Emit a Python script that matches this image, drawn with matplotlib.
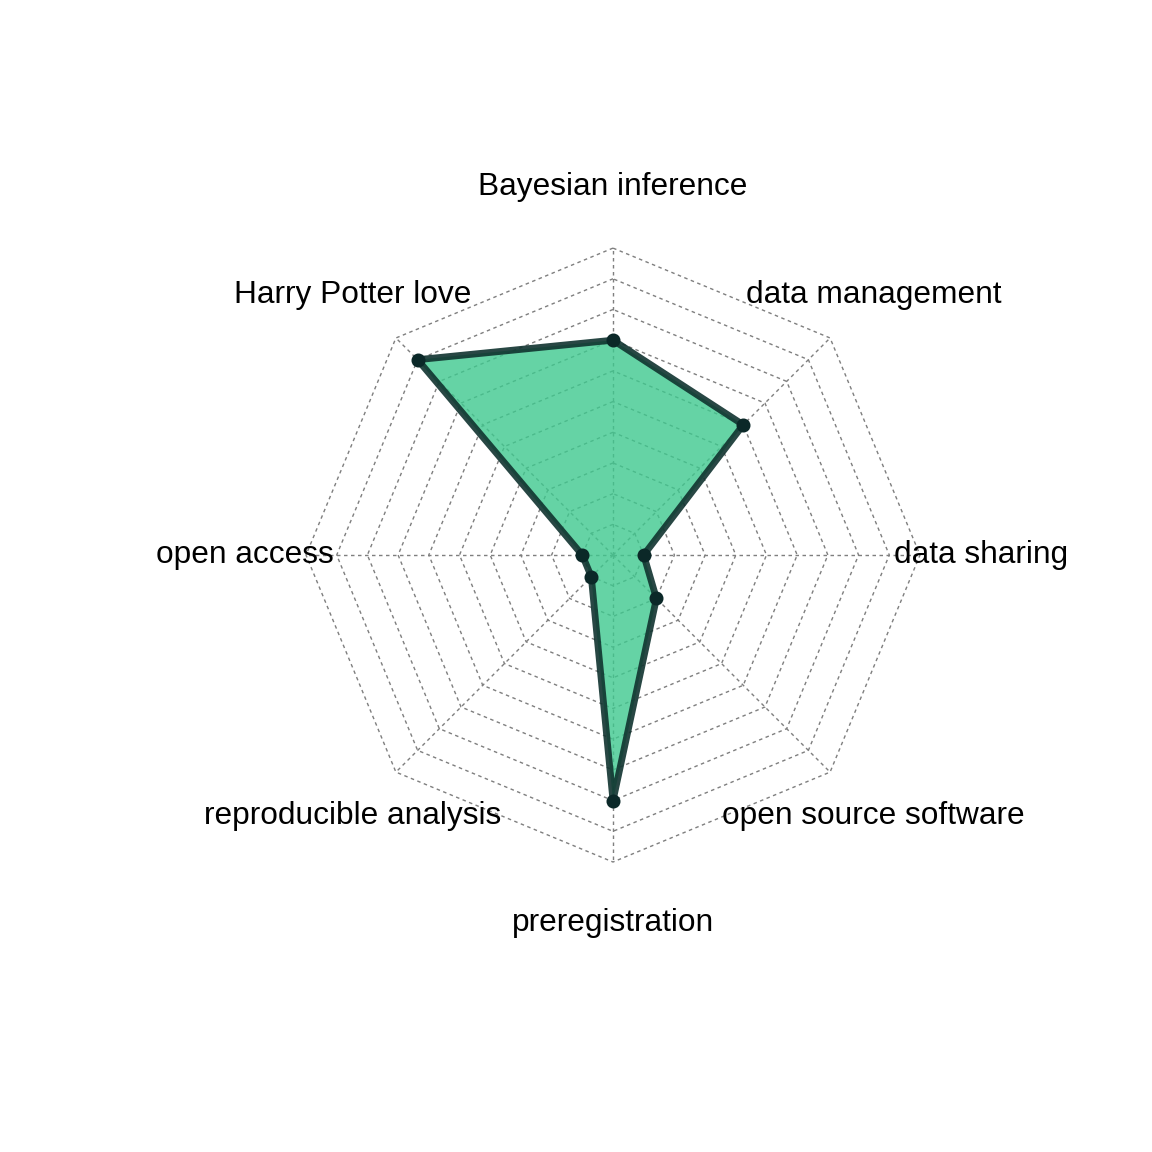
import numpy as np
import matplotlib
matplotlib.use("Agg")
import matplotlib.pyplot as plt

plt.rcParams['font.family'] = ['Liberation Sans', 'DejaVu Sans']

# skills, counter-clockwise starting at the top
skills = ["Bayesian inference", "Harry Potter love", "open access",
          "reproducible analysis", "preregistration", "open source software",
          "data sharing", "data management"]
scores = [7, 9, 1, 1, 8, 2, 1, 6]
max_score = 10
n_rings = 10

n = len(skills)
theta = np.pi / 2 + 2 * np.pi * np.arange(n) / n
ux = np.cos(theta)
uy = np.sin(theta)

fig = plt.figure(figsize=(8, 8), dpi=144)
ax = fig.add_axes([152 / 1152, 189 / 1152, 922 / 1152, 811 / 1152])
ax.set_xlim(-1.5016, 1.5016)
ax.set_ylim(-1.329, 1.313)
ax.axis("off")

grid_style = dict(color="#7f7f7f", lw=0.7, ls=(0, (2.5, 2.5)), zorder=1)
for k in range(1, n_rings + 1):
    r = k / n_rings
    ax.plot(np.append(ux, ux[0]) * r, np.append(uy, uy[0]) * r, **grid_style)
for i in range(n):
    ax.plot([0, ux[i]], [0, uy[i]], **grid_style)

r = np.array(scores) / max_score
px = np.append(ux * r, ux[0] * r[0])
py = np.append(uy * r, uy[0] * r[0])
ax.fill(px, py, color="#3fc98f", alpha=0.8, zorder=2, lw=0)
ax.plot(px, py, color="#10332f", alpha=0.9, lw=3.4, zorder=3,
        solid_joinstyle="round")
ax.plot(ux * r, uy * r, "o", color="#0b2828", ms=6, zorder=4)

for i in range(n):
    ax.text(ux[i] * 1.2, uy[i] * 1.2, skills[i], ha="center", va="center",
            fontsize=15.8, color="black", clip_on=True)

fig.savefig("out.png", dpi=144, facecolor="white")
